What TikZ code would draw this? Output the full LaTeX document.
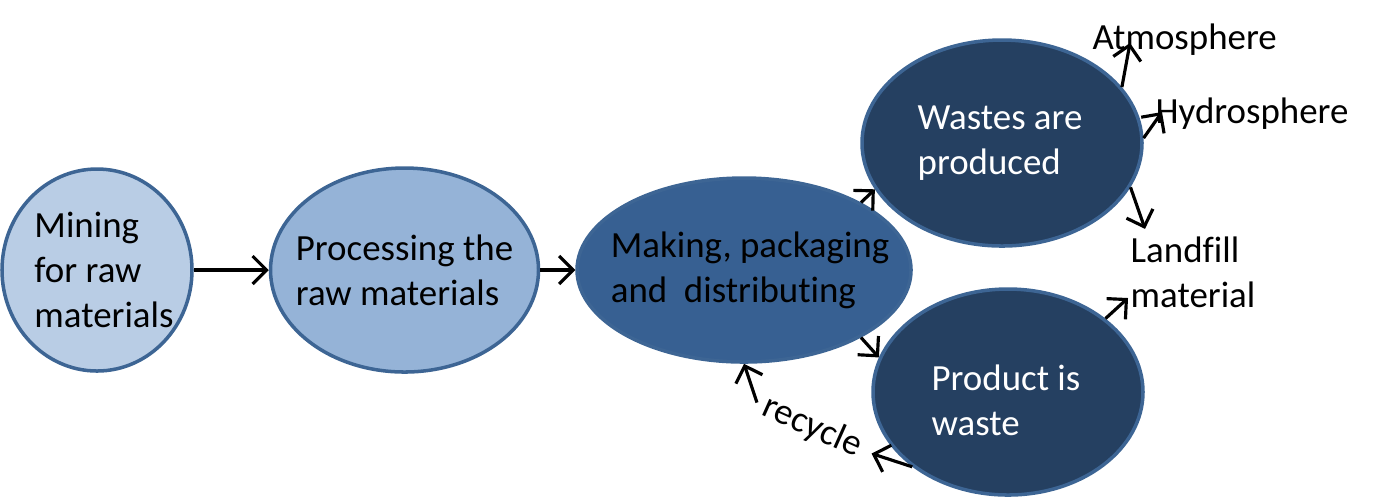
\documentclass[tikz,border=0pt]{standalone}
\usepackage{fontspec}
\setmainfont{Carlito}[Ligatures=NoCommon]
\usetikzlibrary{positioning, arrows.meta, shapes.geometric, calc}

\definecolor{minefill}{HTML}{B9CDE5}
\definecolor{procfill}{HTML}{95B3D7}
\definecolor{makefill}{HTML}{376092}
\definecolor{wastefill}{HTML}{254061}
\definecolor{stageline}{HTML}{3D6594}

\begin{document}
\begin{tikzpicture}[
		>={Straight Barb[length=1.4mm,width=2.8mm]},
		% Style for the stage ellipses
		stage/.style={
			ellipse, draw=stageline, line width=1pt, inner sep=0pt
		},
		% Style for all texts
		stagetext/.style={
			font=\fontsize{10.5}{12.8}\selectfont, align=left, inner sep=0pt
		},
		% Style for the arrows
		flow/.style={->, line width=0.9pt}
		]
		
		\useasboundingbox (0,0) rectangle (13.97,-4.98);
		
		% ==========================================
		% 1. THE CHAIN: Mining -> Processing -> Making
		% ==========================================
		\node[stage, fill=minefill, minimum width=1.90cm, minimum height=2.02cm] (mining) at (0.97,-2.70) {};
		\node[stagetext] (mining-t) at ($(mining.center)+(0.07,0)$) {Mining\\for raw\\materials};
		
		\node[stage, fill=procfill, minimum width=2.68cm, minimum height=2.04cm, right=0.75cm of mining] (proc) {};
		\node[stagetext] (proc-t) at (proc.center) {Processing the\\raw materials};
		
		\node[stage, fill=makefill, minimum width=3.34cm, minimum height=1.84cm, right=0.35cm of proc] (making) {};
		\node[stagetext] (making-t) at ($(making.center)+(0.06,0)$) {Making, packaging\\and~ distributing};
		
		\draw[flow] (mining.east) -- (proc.west);
		\draw[flow] (proc.east) -- (making.west);
		
		% ==========================================
		% 2. THE OUTCOMES: Wastes and Product
		% ==========================================
		\node[stage, fill=wastefill, minimum width=2.80cm, minimum height=2.06cm] (wastes) at (10.02,-1.43) {};
		\node[stagetext, text=white] (wastes-t) at ($(wastes.center)+(-0.02,0)$) {Wastes are\\produced};
		
		\node[stage, fill=wastefill, minimum width=2.70cm, minimum height=2.06cm] (product) at (10.08,-3.92) {};
		\node[stagetext, text=white] (product-t) at ($(product.center)+(-0.02,-0.08)$) {Product is\\waste};
		
		\draw[flow] (making.30) -- (wastes.200);
		\draw[flow] (making.330) -- (product.165);
		
		% ==========================================
		% 3. WHERE THE WASTES GO
		% ==========================================
		\node[stagetext, anchor=west] (atmo) at (10.92,-0.40) {Atmosphere};
		\node[stagetext, anchor=west] (hydro) at (11.55,-1.14) {Hydrosphere};
		\node[stagetext, anchor=west] (landfill) at (11.30,-2.72) {Landfill\\material};
		
		\draw[flow] (wastes.25) -- ($(atmo.west)+(0.38,-0.03)$);
		\draw[flow] (wastes.2) -- ($(hydro.west)+(0.07,0.02)$);
		\draw[flow] (wastes.341) -- ($(landfill.north west)+(0.15,0.07)$);
		\draw[flow] (product.37) -- ($(landfill.west)+(-0.02,-0.26)$);
		
		% ==========================================
		% 4. RECYCLING LOOP
		% ==========================================
		\node[stagetext, rotate=-24] (recycle) at (8.12,-4.27) {recycle};
		\draw[flow] (product.218) -- ($(recycle.east)!-0.12cm!(recycle.center)$);
		\draw[flow] ($(recycle.west)!-0.07cm!(recycle.center)$) -- (making.south);
		
	\end{tikzpicture}
\end{document}
